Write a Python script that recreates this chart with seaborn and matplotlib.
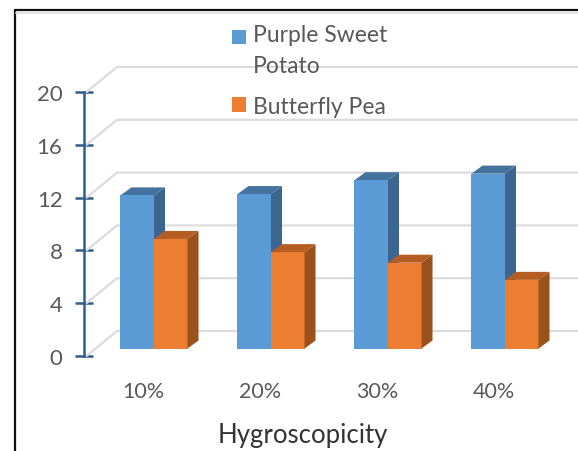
import matplotlib.pyplot as plt
import pandas as pd
import seaborn as sns
from matplotlib.lines import Line2D
from matplotlib.patches import Polygon

levels = ["10%", "20%", "30%", "40%"]
purple_sweet_potato = [11.6, 11.7, 12.75, 13.25]
butterfly_pea = [8.3, 7.3, 6.5, 5.2]
y_ticks = [0, 4, 8, 12, 16, 20]
names = ["Purple Sweet\nPotato", "Butterfly Pea"]

W, H = 578, 452
PX_PER_UNIT = 13.2
PX_PER_CAT = 117
BAR_DEPTH = (11, 8)
WALL_DEPTH = (33, 25)

sns.set_theme(style="white")
plt.rcParams["font.family"] = ["Lato", "DejaVu Sans"]

data = pd.DataFrame({
    "level": levels * 2,
    "value": purple_sweet_potato + butterfly_pea,
    "series": [names[0]] * 4 + [names[1]] * 4,
})


def px_axes(fig, left, bottom_y, right, top_y):
    # axes rectangle given in image pixels
    return fig.add_axes([left / W, 1 - bottom_y / H, (right - left) / W, (bottom_y - top_y) / H])


fig = plt.figure(figsize=(W / 100, H / 100), dpi=100)

# axis with ticks, and the back wall gridlines
ax = px_axes(fig, 84, 357, W, 93)
ax.set_ylim(0, 20)
ax.set_xlim((84 - 143) / PX_PER_CAT, (W - 143) / PX_PER_CAT)
ax.patch.set_alpha(0)
ax.set_yticks(y_ticks)
ax.set_xticks(range(len(levels)))
ax.set_xticklabels(levels)
for side in ["top", "right", "bottom"]:
    ax.spines[side].set_visible(False)
ax.spines["left"].set_color("#2F5D8C")
ax.spines["left"].set_linewidth(1.8)
ax.tick_params(axis="y", direction="inout", length=13, width=1.8, color="#2F5D8C",
               labelcolor="#595959", labelsize=16, pad=9, left=True)
ax.tick_params(axis="x", length=0, labelcolor="#595959", labelsize=15.5, pad=18)
ax.set_xlabel("Hygroscopicity", fontsize=18.5, color="#333333")
ax.xaxis.set_label_coords((303 - 84) / (W - 84), -(436 - 357) / 264, transform=ax.transAxes)
ax.xaxis.label.set_va("center")

wall_x = WALL_DEPTH[0] / (W - 84)
wall_y = WALL_DEPTH[1] / PX_PER_UNIT
for v in y_ticks:
    ax.plot([0.005, wall_x, 1], [v, v + wall_y, v + wall_y], color="#DCDCDC", lw=1.6,
            transform=ax.get_yaxis_transform(), clip_on=False, zorder=1)

# bars sit on a plane shifted into the chart
ax_bars = px_axes(fig, 84, 349.5, W, 85.5)
ax_bars.patch.set_alpha(0)
sns.barplot(data=data, x="level", y="value", hue="series", order=levels, hue_order=names,
            palette=["#5B9BD5", "#ED7D31"], width=0.573, gap=0, errorbar=None,
            saturation=1, linewidth=0, ax=ax_bars)
ax_bars.set_xlim((84 - 154) / PX_PER_CAT, (W - 154) / PX_PER_CAT)
ax_bars.set_ylim(0, 20)
ax_bars.set_axis_off()

dx = BAR_DEPTH[0] / PX_PER_CAT
dy = BAR_DEPTH[1] / PX_PER_UNIT
shades = [("#3B6690", "#44739F", 0.5), ("#9A511C", "#B55D22", 1.5)]
for container, (side_col, top_col, z) in zip(ax_bars.containers, shades):
    for bar in container:
        x0, x1 = bar.get_x(), bar.get_x() + bar.get_width()
        h = bar.get_height()
        ax_bars.add_patch(Polygon([(x1, 0), (x1 + dx, dy), (x1 + dx, h + dy), (x1, h)],
                                  facecolor=side_col, lw=0, zorder=z))
        ax_bars.add_patch(Polygon([(x0, h), (x0 + dx, h + dy), (x1 + dx, h + dy), (x1, h)],
                                  facecolor=top_col, lw=0, zorder=z))

handles, labels = ax_bars.get_legend_handles_labels()
leg = ax_bars.legend(handles, labels, frameon=False, fontsize=16.5, labelcolor="#595959",
                     handlelength=0.62, handleheight=0.62, handletextpad=0.3,
                     labelspacing=0.85, borderpad=0, borderaxespad=0,
                     loc="upper left", bbox_to_anchor=(232 / W, 1 - 25.5 / H),
                     bbox_transform=fig.transFigure)
leg.set_zorder(10)
for text in leg.get_texts():
    text.set_linespacing(1.58)
# swatch of the wrapped entry lines up with its first line
swatch = leg.legend_handles[0]
swatch.set_y(swatch.get_y() + 10)

# picture frame, cropped at right and bottom
fig.add_artist(Line2D([15 / W, 15 / W], [0, 1 - 11 / H], color="#111111", lw=1.6))
fig.add_artist(Line2D([15 / W, 1], [1 - 11 / H, 1 - 11 / H], color="#111111", lw=1.6))
fig.add_artist(Line2D([16 / W, 1], [1 - 13.5 / H, 1 - 13.5 / H], color="#E2E2E2", lw=1.4))

fig.savefig("out.png", dpi=100, facecolor="white")
